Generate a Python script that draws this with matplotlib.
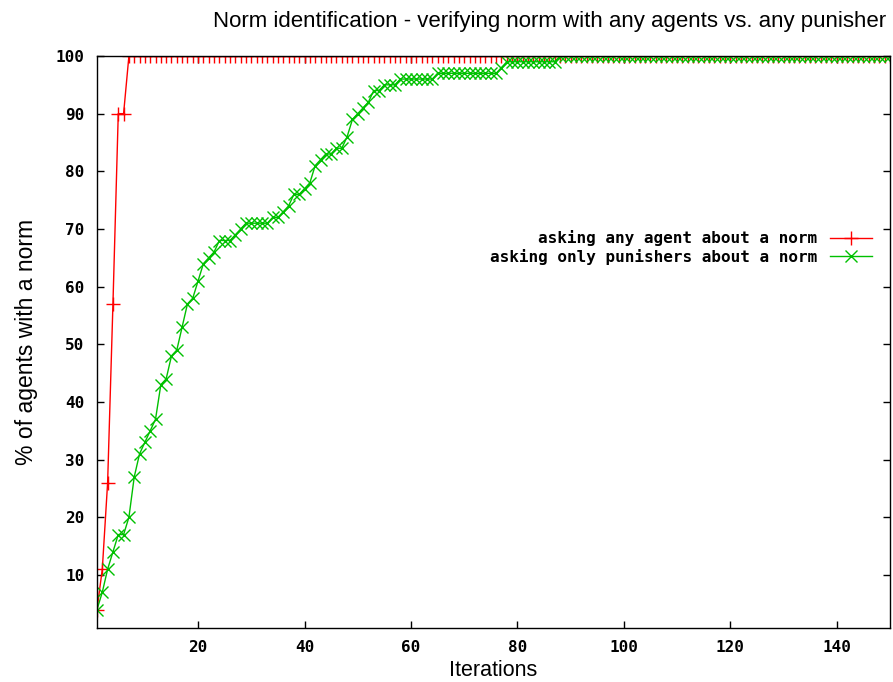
import matplotlib
matplotlib.use("Agg")
import matplotlib.pyplot as plt

# iterations 1..150
iteracoes = list(range(1, 151))

# asking any agent about a norm
qualquer_agente = [4, 11, 26, 57, 90, 90] + [100] * 144

# asking only punishers about a norm
so_punidores = [4, 7, 11, 14, 17, 17, 20, 27, 31, 33,
                35, 37, 43, 44, 48, 49, 53, 57, 58, 61,
                64, 65, 66, 68, 68, 68, 69, 70, 71, 71,
                71, 71, 71, 72, 72, 73, 74, 76, 76, 77,
                78, 81, 82, 83, 83, 84, 84, 86, 89, 90,
                91, 92, 94, 94, 95, 95, 95, 96, 96, 96,
                96, 96, 96, 96, 97, 97, 97, 97, 97, 97,
                97, 97, 97, 97, 97, 97, 98, 99, 99, 99,
                99, 99, 99, 99, 99, 99, 99] + [100] * 63

xticks = [20, 40, 60, 80, 100, 120, 140]
yticks = [10, 20, 30, 40, 50, 60, 70, 80, 90, 100]

fonte_mono = {'family': 'DejaVu Sans Mono', 'weight': 'bold', 'size': 11.5}

fig = plt.figure(figsize=(8.93, 6.82), dpi=100)
ax = fig.add_axes([0.1086, 0.0792, 0.888, 0.8387])

ax.plot(iteracoes, qualquer_agente, color='#ff0000', linewidth=1,
        marker='+', markersize=10, markeredgewidth=1,
        label='asking any agent about a norm')
ax.plot(iteracoes, so_punidores, color='#00c000', linewidth=1,
        marker='x', markersize=8, markeredgewidth=1,
        label='asking only punishers about a norm')

ax.set_xlim(1, 150)
ax.set_ylim(0.8, 100)
ax.set_xticks(xticks)
ax.set_yticks(yticks)
ax.tick_params(direction='in', top=True, right=True, length=5, width=1, pad=9)
for lbl in ax.get_xticklabels() + ax.get_yticklabels():
    lbl.set_fontproperties(fonte_mono)
for s in ax.spines.values():
    s.set_linewidth(1)

ax.set_xlabel('Iterations', family='Liberation Sans', fontsize=15.5, labelpad=3)
ax.set_ylabel('% of agents with a norm', family='Liberation Sans', fontsize=16.5,
              labelpad=13)

fig.text(213 / 893, 1 - 22 / 682,
         'Norm identification - verifying norm with any agents vs. any punisher',
         family='Liberation Sans', fontsize=16, ha='left', va='center')

leg = ax.legend(loc='center right', bbox_to_anchor=(0.995, 0.665),
                frameon=False, markerfirst=False, handlelength=2.6,
                labelspacing=0.15, prop=fonte_mono)
for t in leg.get_texts():
    t.set_ha('right')

plt.savefig('out.png', dpi=100)
